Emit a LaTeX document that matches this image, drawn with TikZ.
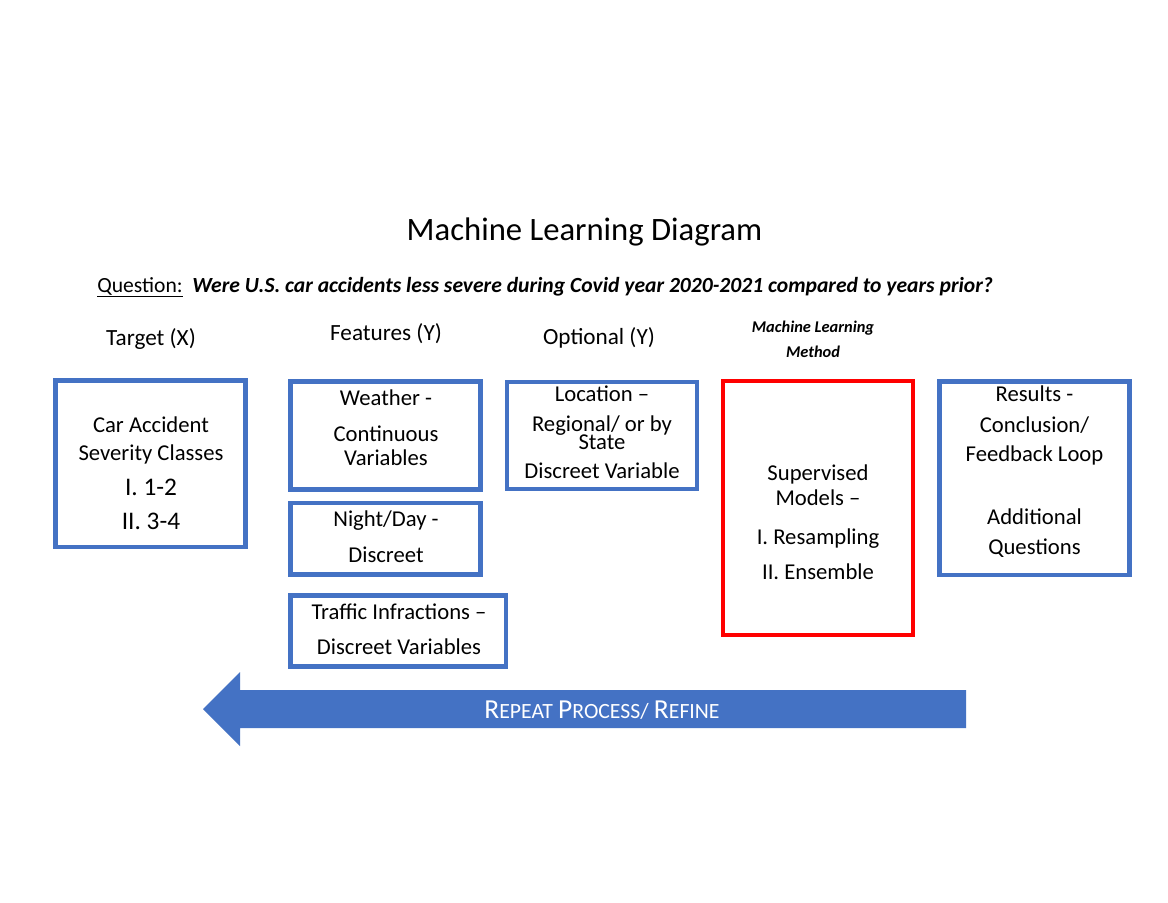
\documentclass[tikz,border=0pt]{standalone}
\usepackage{fontspec}
\setmainfont{Carlito}
\definecolor{ofblue}{HTML}{4472C4}
\definecolor{ofred}{HTML}{FF0000}
\newcommand\myRcap[1]{{\fontsize{20.6}{22}\selectfont #1}}
\newcommand\mySmall[1]{{\fontsize{16.3}{18}\selectfont #1}}
\begin{document}
\begin{tikzpicture}[x=0.75pt,y=-0.75pt,
  boxb/.style={draw=ofblue,line width=3.4pt,inner sep=0pt,minimum width=142.5pt},
  boxr/.style={draw=ofred,line width=3.2pt,inner sep=0pt,minimum width=142.5pt},
  txt/.style={anchor=base,inner sep=0pt,font=\fontsize{17}{20}\selectfont},
  bigtxt/.style={anchor=base,inner sep=0pt,font=\fontsize{19}{22}\selectfont},
  head/.style={anchor=base,inner sep=0pt,font=\fontsize{17.4}{20}\selectfont},
  sm/.style={anchor=base,inner sep=0pt,font=\fontsize{12.3}{14}\selectfont\bfseries\itshape}]
\useasboundingbox[fill=white] (0,0) rectangle (1168,903);

% title and question
\node[anchor=base,inner sep=0pt,font=\fontsize{24.5}{28}\selectfont] (title) at (584.5,240) {Machine Learning Diagram};
\node[anchor=base west,inner sep=0pt,font=\fontsize{16.2}{18}\selectfont] (question) at (97,292)
  {\underline{Question:}\ \ \textbf{\textit{Were U.S. car accidents less severe during Covid year 2020-2021 compared to years prior?}}};

% column headings
\node[head] (htarget) at (151,345) {Target (X)};
\node[head] (hfeat) at (386,340) {Features (Y)};
\node[head] (hopt) at (599,344) {Optional (Y)};
\node[sm] (hml1) at (813,332) {Machine Learning};
\node[sm] (hml2) at (813,357) {Method};

% boxes
\node[boxb,minimum height=124.9pt] (target) at (150.75,463.75) {};
\node[boxb,minimum height=81pt] (weather) at (385.5,435.5) {};
\node[boxb,minimum height=53.6pt] (night) at (385.5,538.75) {};
\node[boxb,minimum width=161.6pt,minimum height=53.25pt] (traffic) at (398.25,631) {};
\node[boxb,minimum height=80.25pt] (location) at (602,435.5) {};
\node[boxr,minimum height=190.5pt] (model) at (818,508) {};
\node[boxb,minimum height=145.1pt] (results) at (1034.5,478.25) {};

% target text
\node[txt] (t1) at (151,432.3) {Car Accident};
\node[txt] (t2) at (151,460.7) {Severity Classes};
\node[bigtxt] (t3) at (151,495) {I. 1-2};
\node[bigtxt] (t4) at (151,529) {II. 3-4};

% weather
\node[txt] (w1) at (386,405.7) {Weather -};
\node[txt] (w2) at (386,441.7) {Continuous};
\node[txt] (w3) at (386,465) {Variables};

% night/day
\node[txt] (n1) at (386,526.7) {Night/Day -};
\node[txt] (n2) at (386,562.7) {Discreet};

% traffic
\node[txt] (tr1) at (399,619.3) {Traffic Infractions --};
\node[txt] (tr2) at (399,654.3) {Discreet Variables};

% location
\node[txt] (l1) at (602,401.7) {Location --};
\node[txt] (l2) at (602,431.7) {Regional/ or by};
\node[txt] (l3) at (602,449) {State};
\node[txt] (l4) at (602,478.3) {Discreet Variable};

% model
\node[txt] (m1) at (818,480) {Supervised};
\node[txt] (m2) at (818,505) {Models --};
\node[txt] (m3) at (818,544) {I. Resampling};
\node[txt] (m4) at (818,579.3) {II. Ensemble};

% results
\node[txt] (r1) at (1034.5,401.7) {Results -};
\node[txt] (r2) at (1034.5,432.3) {Conclusion/};
\node[txt] (r3) at (1034.5,461.7) {Feedback Loop};
\node[txt] (r4) at (1034.5,524) {Additional};
\node[txt] (r5) at (1034.5,554.3) {Questions};

% repeat arrow
\fill[ofblue] (203,709) -- (240,672) -- (240,690) -- (966,690) -- (966,728)
  -- (240,728) -- (240,746) -- cycle;
\node[anchor=base,inner sep=0pt,text=white] (repeat) at (602,718)
  {\myRcap{R}\mySmall{EPEAT}\, \myRcap{P}\mySmall{ROCESS/}\, \myRcap{R}\mySmall{EFINE}};
\end{tikzpicture}
\end{document}
